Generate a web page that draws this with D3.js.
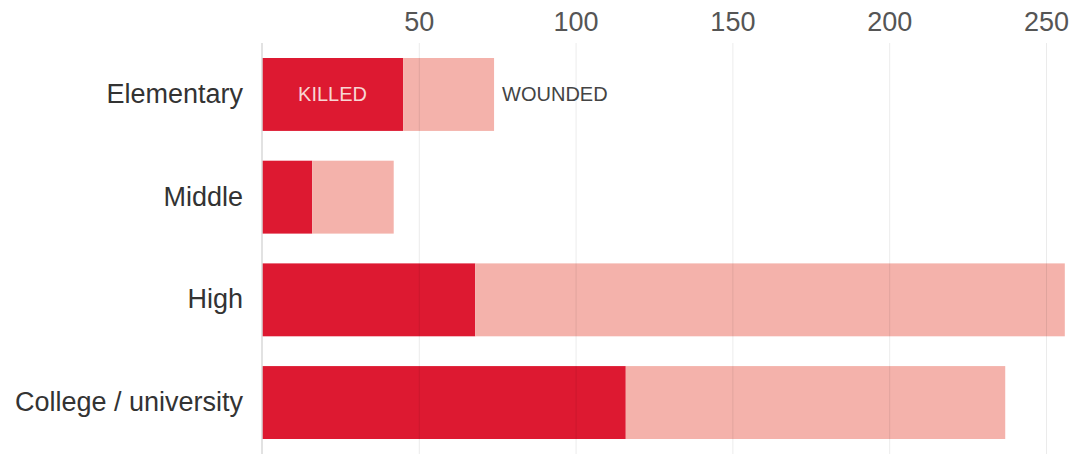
<!DOCTYPE html>
<html>
<head>
<meta charset="utf-8">
<script src="https://cdn.jsdelivr.net/npm/d3@7"></script>
<style>
  body { margin: 0; background: #fff; }
  text { font-family: "Liberation Sans", Arial, sans-serif; }
</style>
</head>
<body>
<div id="chart"></div>
<script>
const levels = ['Elementary', 'Middle', 'High', 'College / university'];
const killed = [45, 16, 68, 116];
const wounded = [29, 26, 188, 121];
const ticks = [50, 100, 150, 200, 250];

const width = 1074;
const height = 454;

const svg = d3.select('#chart').append('svg')
    .attr('width', width)
    .attr('height', height);

const x = d3.scaleLinear()
    .domain([0, 250])
    .range([262, 1046]);

const y = d3.scaleBand()
    .domain(levels)
    .range([58, 439])
    .paddingInner(0.29)
    .paddingOuter(0);

const rows = levels.map((d, i) => ({ level: d, killed: killed[i], wounded: wounded[i] }));

// killed bars
svg.append('g')
    .selectAll('rect')
    .data(rows)
    .enter().append('rect')
    .attr('x', x(0))
    .attr('y', d => y(d.level))
    .attr('width', d => x(d.killed) - x(0))
    .attr('height', y.bandwidth())
    .style('fill', '#dd1931');

// wounded bars, stacked after killed
svg.append('g')
    .selectAll('rect')
    .data(rows)
    .enter().append('rect')
    .attr('x', d => x(d.killed))
    .attr('y', d => y(d.level))
    .attr('width', d => x(d.killed + d.wounded) - x(d.killed))
    .attr('height', y.bandwidth())
    .style('fill', '#f4b2ab');

// gridlines on top, faint
const xAxis = svg.append('g')
    .attr('transform', 'translate(0,43)')
    .call(d3.axisTop(x).tickValues(ticks).tickSize(-(height - 43)).tickPadding(12));
xAxis.select('.domain').remove();
xAxis.selectAll('.tick line')
    .attr('stroke', '#000')
    .attr('stroke-opacity', 0.08);
xAxis.selectAll('.tick text')
    .attr('fill', '#555')
    .style('font-size', '27px');

// zero line
svg.append('line')
    .attr('x1', x(0)).attr('x2', x(0))
    .attr('y1', 43).attr('y2', height)
    .attr('stroke', '#d8d8d8')
    .attr('stroke-width', 1.5);

// category labels
const yAxis = svg.append('g')
    .attr('transform', 'translate(' + (x(0) - 19) + ',0)')
    .call(d3.axisLeft(y).tickSize(0).tickPadding(0));
yAxis.select('.domain').remove();
yAxis.selectAll('.tick text')
    .attr('fill', '#333')
    .style('font-size', '27px');

// inline legend on the first bar
const first = rows[0];
svg.append('text')
    .attr('x', (x(0) + x(first.killed)) / 2)
    .attr('y', y(first.level) + y.bandwidth() / 2)
    .attr('dy', '0.35em')
    .attr('text-anchor', 'middle')
    .attr('fill', '#f8d6d4')
    .style('font-size', '20px')
    .text('KILLED');

svg.append('text')
    .attr('x', x(first.killed + first.wounded) + 8)
    .attr('y', y(first.level) + y.bandwidth() / 2)
    .attr('dy', '0.35em')
    .attr('fill', '#444')
    .style('font-size', '20px')
    .text('WOUNDED');
</script>
</body>
</html>
